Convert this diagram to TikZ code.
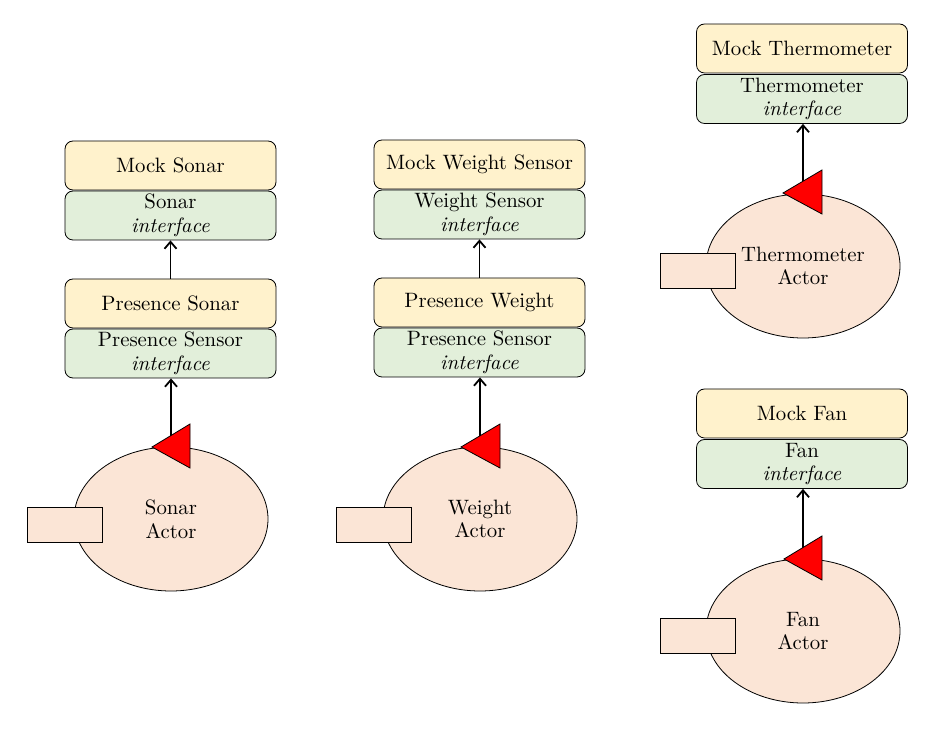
\documentclass[tikz,border=0pt]{standalone}
\usetikzlibrary{shapes.geometric,arrows.meta}
\definecolor{mockyellow}{HTML}{FFF2CC}
\definecolor{ifacegreen}{HTML}{E2EFDA}
\definecolor{actorpink}{HTML}{FBE5D6}
\begin{document}
\begin{tikzpicture}[x=0.5pt,y=-0.5pt, font=\fontsize{10.4}{11.8}\selectfont,
	mock/.style={draw, rounded corners=4pt, fill=mockyellow, minimum width=105.5pt, minimum height=24.5pt, inner sep=0pt, align=center},
	iface/.style={draw, rounded corners=4pt, fill=ifacegreen, minimum width=105.5pt, minimum height=24.5pt, inner sep=0pt, align=center},
	actor/.style={draw, ellipse, fill=actorpink, minimum width=97pt, minimum height=72pt, inner sep=0pt, align=center},
	tab/.style={draw, fill=actorpink, minimum width=37.5pt, minimum height=17.5pt, inner sep=0pt},
	port/.style={draw, fill=red, line width=0.4pt},
	uses/.style={black, line width=0.9pt, -{Straight Barb[length=3.5pt,width=6pt]}}]
			\useasboundingbox (0,0) rectangle (937,731);

			% sonar
			\node (ms) [mock] at (170.5,165.5) {Mock Sonar};
			\node (si) [iface] at (170.5,215.5) {Sonar\\\textit{interface}};
			\node (ps) [mock] at (170.5,303.5) {Presence Sonar};
			\node (psi) [iface] at (170.5,353.5) {Presence Sensor\\\textit{interface}};
			\node (sa) [actor] at (171,519) {Sonar\\Actor};
			\node (sat) [tab] at (64.5,524.5) {};
			\draw[uses] (ps.north) -- (ps.north |- si.south);
			\draw[uses] (sa.north) -- (sa.north |- psi.south);
			\filldraw[port] (152,447) -- (190,424) -- (190,468) -- cycle;

			% weight
			\node (mw) [mock] at (479.5,164.5) {Mock Weight Sensor};
			\node (wi) [iface] at (479.5,214.5) {Weight Sensor\\\textit{interface}};
			\node (pw) [mock] at (479.5,302.5) {Presence Weight};
			\node (pwi) [iface] at (479.5,352.5) {Presence Sensor\\\textit{interface}};
			\node (wa) [actor] at (480,519) {Weight\\Actor};
			\node (wat) [tab] at (373.5,524.5) {};
			\draw[uses] (pw.north) -- (pw.north |- wi.south);
			\draw[uses] (wa.north) -- (wa.north |- pwi.south);
			\filldraw[port] (461,447) -- (500,424) -- (500,468) -- cycle;

			% thermometer
			\node (mt) [mock] at (802,48.5) {Mock Thermometer};
			\node (ti) [iface] at (802,99) {Thermometer\\\textit{interface}};
			\node (ta) [actor] at (803,266) {Thermometer\\Actor};
			\node (tat) [tab] at (697.5,271) {};
			\draw[uses] (ta.north) -- (ta.north |- ti.south);
			\filldraw[port] (783,193) -- (822,170) -- (822,214) -- cycle;

			% fan
			\node (mf) [mock] at (802,413.5) {Mock Fan};
			\node (fi) [iface] at (802,464) {Fan\\\textit{interface}};
			\node (fa) [actor] at (803,631) {Fan\\Actor};
			\node (fat) [tab] at (697.5,636) {};
			\draw[uses] (fa.north) -- (fa.north |- fi.south);
			\filldraw[port] (784,559) -- (822,536) -- (822,580) -- cycle;
		\end{tikzpicture}
\end{document}
